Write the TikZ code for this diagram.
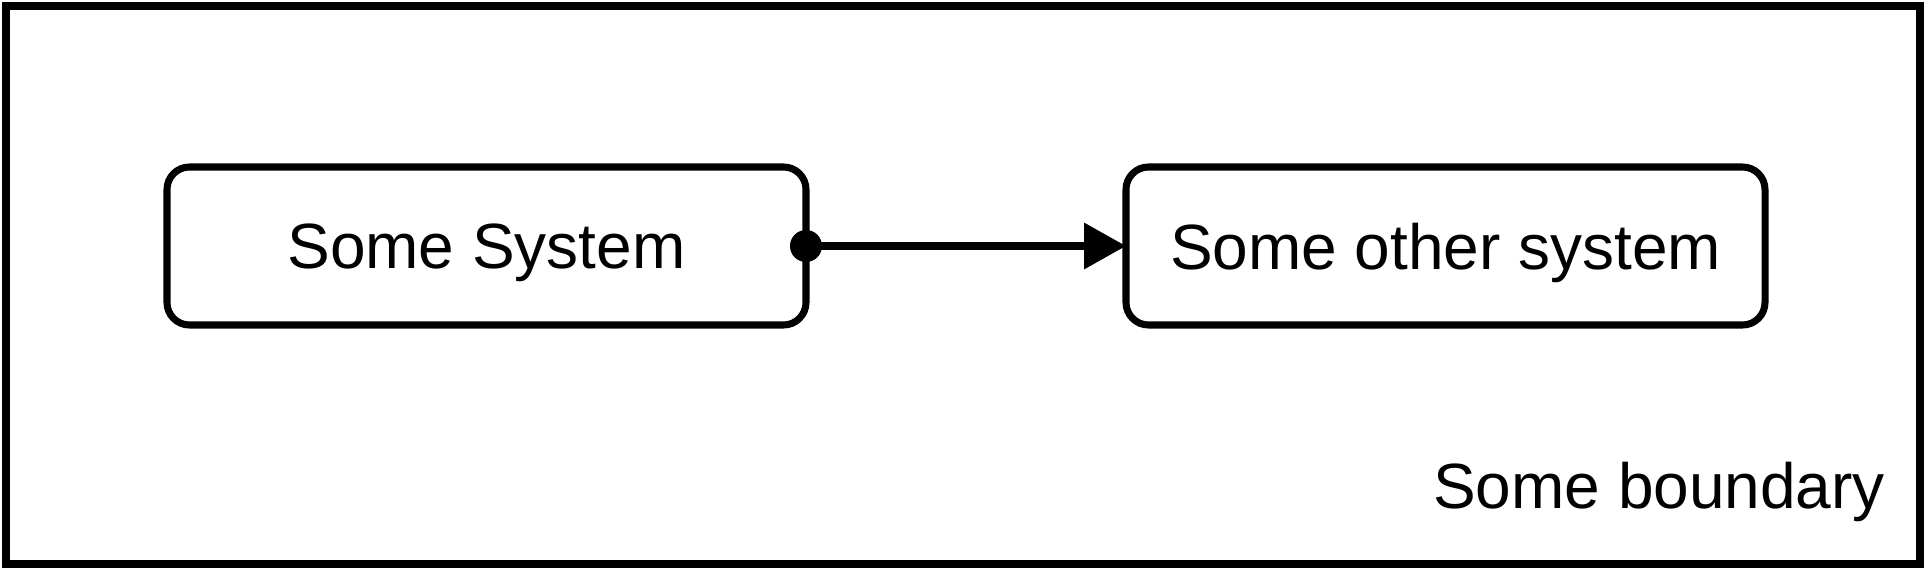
\documentclass[tikz,border=0pt]{standalone}
\usepackage{fontspec}
\setmainfont{Liberation Sans}
\usetikzlibrary{arrows.meta}
\tikzset{
  sysbox/.style={draw,line width=4pt,rounded corners=0.45cm,minimum width=12.78cm,
    minimum height=3.16cm,outer sep=0pt,text depth=0pt,font=\fontsize{36.4}{44}\selectfont},
  flow/.style={line width=4pt,-{Triangle[length=0.84cm,width=0.9cm]}},
}
\begin{document}
\begin{tikzpicture}
  \useasboundingbox (0,0) rectangle (38.56,11.36);
  % boundary
  \node[draw,line width=4.5pt,minimum width=38.28cm,minimum height=11.16cm,outer sep=0pt]
    (boundary) at (19.26,5.66) {};
  \node[anchor=base east,font=\fontsize{36.4}{44}\selectfont] (bndlabel)
    at ([xshift=-0.58cm,yshift=1.12cm]boundary.south east) {Some boundary};
  % systems
  \node[sysbox] (sys) at (9.73,6.44) {Some System};
  \node[sysbox] (other) at (28.91,6.44) {Some other system};
  \draw[flow] (sys.east) -- (other.west);
  \fill (sys.east) circle (0.32);
\end{tikzpicture}
\end{document}
